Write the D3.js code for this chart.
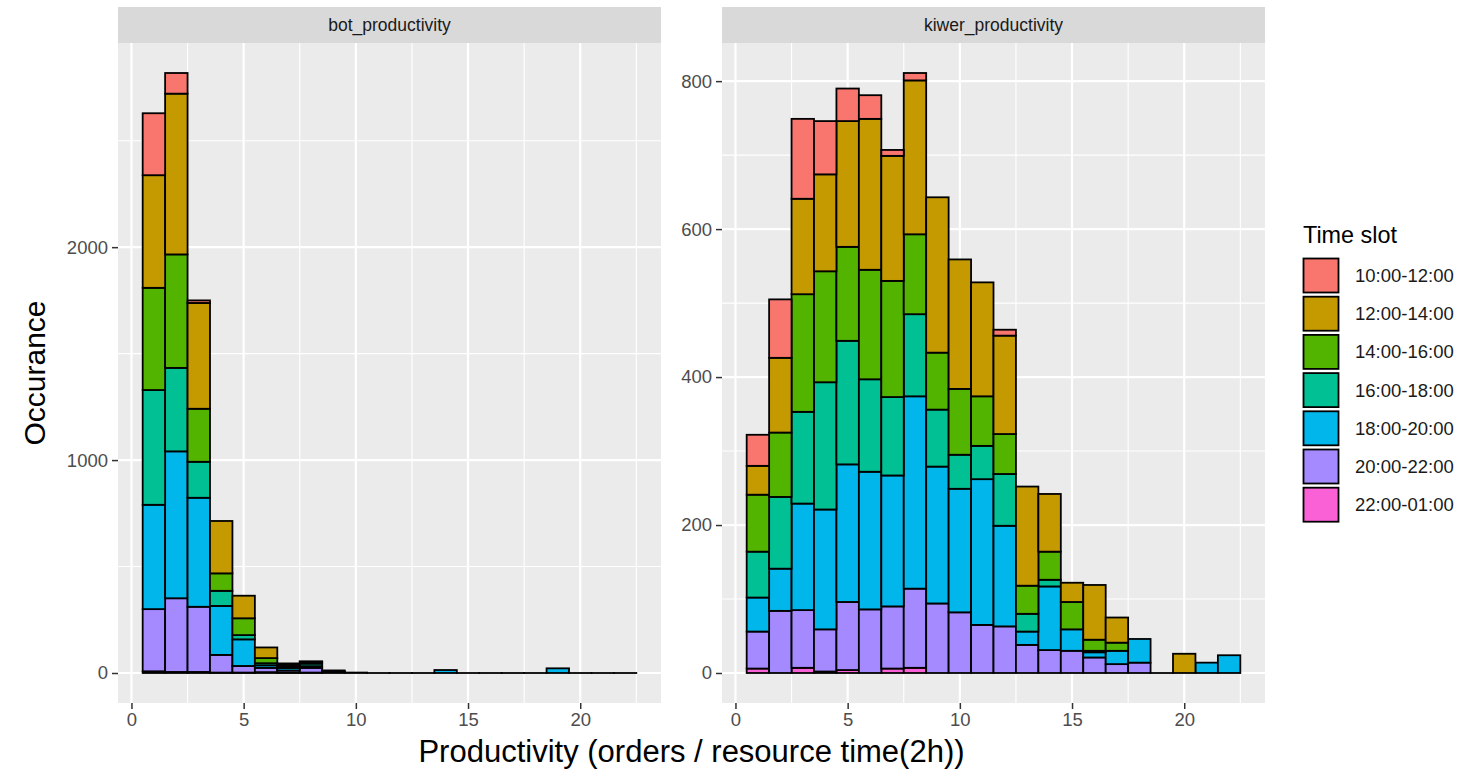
<!DOCTYPE html>
<html>
<head>
<meta charset="utf-8">
<script src="https://cdn.jsdelivr.net/npm/d3@7"></script>
<style>
  html, body { margin: 0; padding: 0; background: #ffffff; }
  svg { display: block; font-family: "Liberation Sans", Arial, Helvetica, sans-serif; }
</style>
</head>
<body>
<svg id="chart" width="1465" height="772"></svg>
<script>
// Histogram bins (bin centres, width 1)
const bins = d3.range(1, 23);

// Time slots, top of stack first
const slots = ["10:00-12:00", "12:00-14:00", "14:00-16:00", "16:00-18:00",
               "18:00-20:00", "20:00-22:00", "22:00-01:00"];
const slotColors = ["#F8766D", "#C49A00", "#53B400", "#00C094", "#00B6EB", "#A58AFF", "#FB61D7"];

// bot_productivity counts per slot, one value per bin
const bot_10_12 = [291, 97, 12, 0, 0, 0, 0, 0, 0, 0, 0, 0, 0, 0, 0, 0, 0, 0, 0, 0, 0, 0];
const bot_12_14 = [529, 755, 497, 246, 106, 50, 5, 3, 0, 0, 0, 0, 0, 0, 0, 0, 0, 0, 0, 0, 0, 0];
const bot_14_16 = [480, 533, 249, 82, 79, 24, 8, 8, 2, 0, 0, 0, 0, 0, 0, 0, 0, 0, 0, 0, 0, 0];
const bot_16_18 = [539, 392, 169, 71, 20, 10, 8, 12, 2, 0, 0, 0, 0, 0, 0, 0, 0, 0, 0, 0, 0, 0];
const bot_18_20 = [490, 690, 512, 230, 125, 12, 12, 8, 4, 0, 0, 0, 0, 14, 0, 0, 0, 0, 22, 0, 0, 0];
const bot_20_22 = [292, 346, 306, 83, 31, 20, 10, 22, 4, 2, 0, 0, 0, 0, 0, 0, 0, 0, 0, 0, 0, 0];
const bot_22_01 = [8, 5, 5, 2, 2, 4, 2, 2, 0, 0, 0, 0, 0, 0, 0, 0, 0, 0, 0, 0, 0, 0];

// kiwer_productivity counts per slot, one value per bin
const kiwer_10_12 = [42, 79, 108, 72, 44, 32, 8, 10, 0, 0, 0, 8, 0, 0, 0, 0, 0, 0, 0, 0, 0, 0];
const kiwer_12_14 = [39, 101, 129, 131, 170, 204, 169, 208, 210, 175, 154, 133, 134, 78, 26, 74, 34, 0, 0, 26, 0, 0];
const kiwer_14_16 = [77, 87, 159, 150, 127, 148, 157, 108, 77, 89, 67, 54, 38, 38, 37, 15, 11, 0, 0, 0, 0, 0];
const kiwer_16_18 = [62, 97, 124, 172, 167, 125, 106, 111, 77, 46, 45, 70, 24, 9, 0, 2, 0, 0, 0, 0, 0, 0];
const kiwer_18_20 = [46, 57, 144, 162, 186, 186, 177, 260, 185, 167, 197, 136, 18, 86, 29, 7, 18, 32, 0, 0, 14, 24];
const kiwer_20_22 = [50, 84, 78, 57, 92, 86, 84, 107, 94, 82, 65, 63, 38, 31, 30, 21, 12, 14, 0, 0, 0, 0];
const kiwer_22_01 = [6, 0, 7, 2, 4, 0, 6, 7, 0, 0, 0, 0, 0, 0, 0, 0, 0, 0, 0, 0, 0, 0];

// Axis tick labels
const xTicks = [0, 5, 10, 15, 20];
const botYTicks = [0, 1000, 2000];
const kiwerYTicks = [0, 200, 400, 600, 800];

// Facet labels and titles
const facetNames = ["bot_productivity", "kiwer_productivity"];
const xTitle = "Productivity (orders / resource time(2h))";
const yTitle = "Occurance";
const legendTitle = "Time slot";

const svg = d3.select("#chart");

function buildRows(series) {
  return bins.map((b, i) => {
    const row = { bin: b };
    slots.forEach((s, k) => { row[s] = series[k][i]; });
    return row;
  });
}

const panels = [
  { name: facetNames[0], rows: buildRows([bot_10_12, bot_12_14, bot_14_16, bot_16_18, bot_18_20, bot_20_22, bot_22_01]),
    yTicks: botYTicks, x0: 118, x1: 661 },
  { name: facetNames[1], rows: buildRows([kiwer_10_12, kiwer_12_14, kiwer_14_16, kiwer_16_18, kiwer_18_20, kiwer_20_22, kiwer_22_01]),
    yTicks: kiwerYTicks, x0: 722, x1: 1265 }
];

const panelTop = 43, panelBottom = 703;
const stripTop = 7;

// Stack bottom-up: last slot at the bottom, first slot on top
const stackKeys = slots.slice().reverse();
const stack = d3.stack().keys(stackKeys);

function minorBetween(majors, domain) {
  const step = majors[1] - majors[0];
  const out = [];
  for (let v = majors[0] - step / 2; v <= domain[1]; v += step) {
    if (v >= domain[0]) out.push(v);
  }
  return out;
}

panels.forEach(p => {
  const series = stack(p.rows);
  const maxTotal = d3.max(p.rows, r => d3.sum(slots, s => r[s]));
  const yDomain = [-0.05 * maxTotal, 1.05 * maxTotal];
  const y = d3.scaleLinear().domain(yDomain).range([panelBottom, panelTop]);
  const xDomain = [bins[0] - 0.5 - 1.1, bins[bins.length - 1] + 0.5 + 1.1];
  const x = d3.scaleLinear().domain(xDomain).range([p.x0, p.x1]);

  const g = svg.append("g");

  // strip
  g.append("rect").attr("x", p.x0).attr("y", stripTop)
    .attr("width", p.x1 - p.x0).attr("height", panelTop - stripTop)
    .attr("fill", "#D9D9D9");
  g.append("text").attr("x", (p.x0 + p.x1) / 2).attr("y", (stripTop + panelTop) / 2)
    .attr("text-anchor", "middle").attr("dominant-baseline", "central")
    .attr("font-size", 17.5).attr("fill", "#1A1A1A").text(p.name);

  // panel background
  g.append("rect").attr("x", p.x0).attr("y", panelTop)
    .attr("width", p.x1 - p.x0).attr("height", panelBottom - panelTop)
    .attr("fill", "#EBEBEB");

  // grid lines
  const grid = g.append("g");
  minorBetween(xTicks, xDomain).forEach(v => {
    grid.append("line").attr("x1", x(v)).attr("x2", x(v)).attr("y1", panelTop).attr("y2", panelBottom)
      .attr("stroke", "#ffffff").attr("stroke-width", 1.1);
  });
  minorBetween(p.yTicks, yDomain).forEach(v => {
    grid.append("line").attr("x1", p.x0).attr("x2", p.x1).attr("y1", y(v)).attr("y2", y(v))
      .attr("stroke", "#ffffff").attr("stroke-width", 1.1);
  });
  xTicks.forEach(v => {
    grid.append("line").attr("x1", x(v)).attr("x2", x(v)).attr("y1", panelTop).attr("y2", panelBottom)
      .attr("stroke", "#ffffff").attr("stroke-width", 2.2);
  });
  p.yTicks.forEach(v => {
    grid.append("line").attr("x1", p.x0).attr("x2", p.x1).attr("y1", y(v)).attr("y2", y(v))
      .attr("stroke", "#ffffff").attr("stroke-width", 2.2);
  });

  // stacked bars
  const colorOf = d3.scaleOrdinal().domain(slots).range(slotColors);
  series.forEach(s => {
    g.append("g").selectAll("rect").data(s.filter(d => d[1] > d[0])).join("rect")
      .attr("x", d => x(d.data.bin - 0.5))
      .attr("width", d => x(d.data.bin + 0.5) - x(d.data.bin - 0.5))
      .attr("y", d => y(d[1]))
      .attr("height", d => y(d[0]) - y(d[1]))
      .attr("fill", colorOf(s.key))
      .attr("stroke", "#000000")
      .attr("stroke-width", 1.8);
  });

  // empty bins still show as a flat outline on the baseline
  g.append("g").selectAll("line")
    .data(p.rows.filter(r => d3.sum(slots, s => r[s]) === 0))
    .join("line")
    .attr("x1", d => x(d.bin - 0.5)).attr("x2", d => x(d.bin + 0.5))
    .attr("y1", y(0)).attr("y2", y(0))
    .attr("stroke", "#000000").attr("stroke-width", 1.8).attr("stroke-linecap", "square");

  // axes
  const xAxis = d3.axisBottom(x).tickValues(xTicks).tickSize(6).tickPadding(4).tickFormat(d3.format("d"));
  const gx = g.append("g").attr("transform", `translate(0,${panelBottom})`).call(xAxis);
  const yAxis = d3.axisLeft(y).tickValues(p.yTicks).tickSize(6).tickPadding(4).tickFormat(d3.format("d"));
  const gy = g.append("g").attr("transform", `translate(${p.x0},0)`).call(yAxis);
  [gx, gy].forEach(a => {
    a.select(".domain").remove();
    a.selectAll(".tick line").attr("stroke", "#333333").attr("stroke-width", 1.5);
    a.selectAll(".tick text").attr("fill", "#4D4D4D").attr("font-size", 18.5)
      .attr("font-family", "Liberation Sans, Arial, sans-serif");
  });
});

// axis titles
svg.append("text").attr("x", (118 + 1265) / 2).attr("y", 762)
  .attr("text-anchor", "middle").attr("font-size", 31).attr("fill", "#000000").text(xTitle);
svg.append("text").attr("transform", `translate(45,373) rotate(-90)`)
  .attr("text-anchor", "middle").attr("font-size", 30).attr("fill", "#000000").text(yTitle);

// legend
const legend = svg.append("g").attr("transform", "translate(1303,0)");
legend.append("text").attr("x", 0).attr("y", 243).attr("font-size", 23.4).attr("fill", "#000000").text(legendTitle);
slots.forEach((s, i) => {
  const top = 258.5 + i * 38.2;
  legend.append("rect").attr("x", 0.5).attr("y", top).attr("width", 35).attr("height", 34)
    .attr("fill", slotColors[i]).attr("stroke", "#000000").attr("stroke-width", 1.8);
  legend.append("text").attr("x", 52).attr("y", top + 17).attr("dominant-baseline", "central")
    .attr("font-size", 18.5).attr("fill", "#1A1A1A").text(s);
});
</script>
</body>
</html>
